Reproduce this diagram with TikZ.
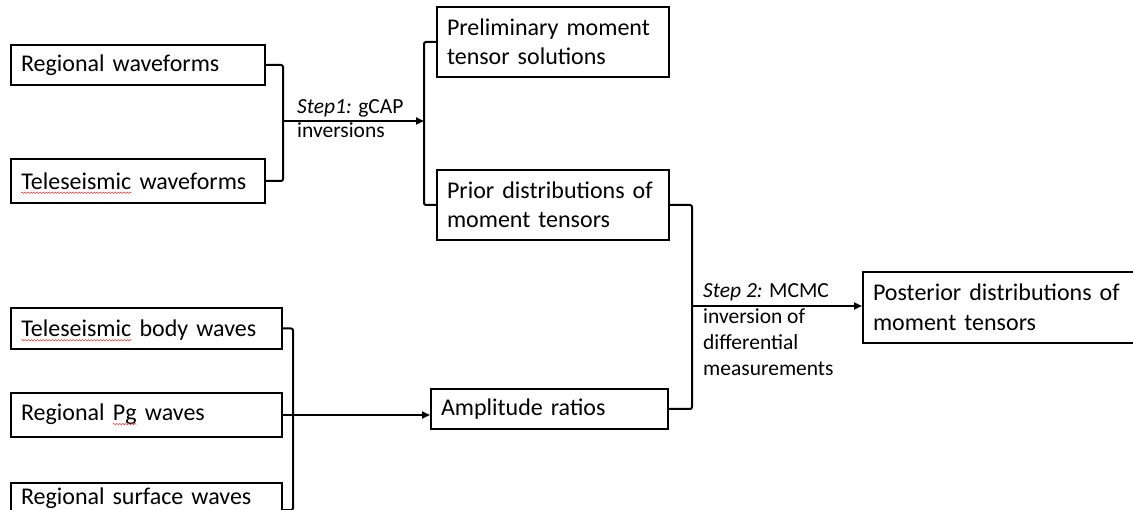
\documentclass[tikz,border=0pt]{standalone}
\usepackage{fontspec}
\setmainfont{Carlito}
\usetikzlibrary{arrows.meta,positioning,decorations.pathmorphing}
\definecolor{flowline}{HTML}{000000}
\definecolor{spellred}{HTML}{E04040}

% wavy red underline for flagged words
\newcommand\spellmark[1]{\tikz[baseline=(spellword.base)]{%
  \node[inner sep=0pt,outer sep=0pt,text width={},draw=none,fill=none] (spellword) {#1};
  \draw[spellred,line width=0.6pt,decorate,decoration={snake,amplitude=0.8pt,segment length=3pt}]
    ([yshift=-3.5pt]spellword.base west) -- ([yshift=-3.5pt]spellword.base east);}}

\tikzset{
  flowbox/.style={
    draw=flowline,
    line width=2pt,
    text width=#1,
    inner xsep=10pt,
    inner ysep=2pt,
    align=left,
    font=\fontsize{24}{29.5}\selectfont
  },
  flowbox/.default=234pt,
  steplabel/.style={
    inner sep=0pt,
    align=left,
    anchor=north west,
    font=\fontsize{21.5}{24}\selectfont
  },
  link/.style={line width=2pt,draw=flowline,rounded corners=2pt},
  arrow/.style={link,-{Triangle[length=8pt,width=7pt]}}
}

\begin{document}
\begin{tikzpicture}[x=1pt,y=-1pt,node distance=72pt]
  \useasboundingbox (0,0) rectangle (1133,510);

  % step 1 inputs and outputs
  \node[flowbox, minimum height=40pt] (regwave) at (138,65) {Regional waveforms};
  \node[flowbox, minimum height=40pt, below=of regwave] (telewave) {\spellmark{Teleseismic} waveforms};
  \node[flowbox=212pt, minimum height=70pt] (prelim) at (553,42) {Preliminary moment\\tensor solutions};
  \node[flowbox=212pt, minimum height=70pt, below=91pt of prelim] (prior) {Prior distributions of\\moment tensors};

  % amplitude inputs
  \node[flowbox=251pt, minimum height=37pt] (bodywave) at (146.5,328.5) {\spellmark{Teleseismic} body waves};
  \node[flowbox=251pt, minimum height=40pt, below=42pt of bodywave] (pgwave) {Regional \spellmark{Pg} waves};
  \node[flowbox=251pt, minimum height=38pt, text depth=11pt, below=44pt of pgwave] (surfwave) {Regional surface waves};
  \node[flowbox=217pt, minimum height=40pt] (ampratio) at (549.5,409) {Amplitude ratios};

  % step 2 result
  \node[flowbox=257pt, minimum height=71pt] (posterior) at (1001.5,307.5) {Posterior distributions of\\moment tensors};

  \coordinate (join1) at (283,121);
  \coordinate (split1) at (424,121);
  \coordinate (join2) at (293,409);
  \coordinate (join3) at (692,306);

  \draw[link] (regwave.east) -| (join1) |- (telewave.east);
  \draw[arrow] (join1) -- (split1);
  \draw[link] (prelim.west) -| (split1) |- (prior.west);

  \draw[link] (bodywave.east) -| (join2) |- ([yshift=-8pt]surfwave.east);
  \draw[arrow] (pgwave.east) -- (pgwave.east -| ampratio.west);

  \draw[link] (prior.east) -| (join3) |- (ampratio.east);
  \draw[arrow] (join3) -- (join3 -| posterior.west);

  \node[steplabel] (step1) at (297,99) {\textit{Step1:} gCAP\\inversions};
  \node[steplabel, font=\fontsize{21.5}{26}\selectfont] (step2) at (703,283) {\textit{Step 2:} MCMC\\inversion of\\differential\\measurements};
\end{tikzpicture}
\end{document}
